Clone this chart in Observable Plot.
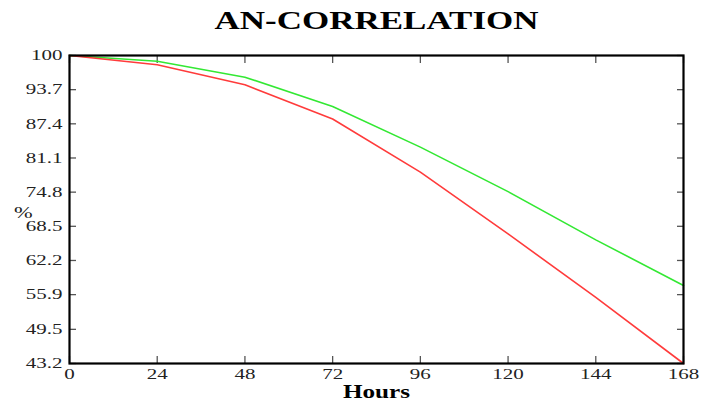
<!DOCTYPE html>
<html>
<head>
<meta charset="utf-8">
<script src="https://cdn.jsdelivr.net/npm/d3@7"></script>
<script src="https://cdn.jsdelivr.net/npm/@observablehq/plot@0.6"></script>
<style>
  html, body { margin: 0; padding: 0; background: #fff; }
  svg, svg text { font-family: "Liberation Serif", "DejaVu Serif", serif !important; }
</style>
</head>
<body>
<div id="chart"></div>
<script>
const title = "AN-CORRELATION";
const xLabel = "Hours";
const yLabel = "%";
const hours = [0, 24, 48, 72, 96, 120, 144, 168];
const greenSeries = [100, 98.95, 96.0, 90.6, 83.1, 74.9, 66.0, 57.6];
const redSeries = [100, 98.3, 94.6, 88.3, 78.5, 67.1, 55.4, 43.2];
const xTicks = [0, 24, 48, 72, 96, 120, 144, 168];
const yTicks = [43.2, 49.5, 55.9, 62.2, 68.5, 74.8, 81.1, 87.4, 93.7, 100];
const yTickLabels = ["43.2", "49.5", "55.9", "62.2", "68.5", "74.8", "81.1", "87.4", "93.7", "100"];

const green = hours.map((h, i) => ({hours: h, value: greenSeries[i]}));
const red = hours.map((h, i) => ({hours: h, value: redSeries[i]}));

const serif = "'Liberation Serif', serif";
const tickStroke = "#555";
const chart = Plot.plot({
  width: 709,
  height: 403,
  marginLeft: 69,
  marginRight: 26,
  marginTop: 55,
  marginBottom: 40,
  style: {fontFamily: serif, background: "white", color: "black"},
  x: {domain: [0, 168], label: null},
  y: {domain: [43.2, 100], label: null},
  marks: [
    Plot.axisY(yTicks, {anchor: "left", tickSize: -7, tickPadding: 14, stroke: tickStroke, strokeWidth: 1.3,
      tickFormat: (d) => yTickLabels[yTicks.indexOf(d)], fontSize: 15, fontFamily: serif, fill: "#222", label: null}),
    Plot.axisY(yTicks, {anchor: "right", tickSize: -7, tickFormat: () => "", stroke: tickStroke, strokeWidth: 1.3, label: null}),
    Plot.axisX(xTicks, {anchor: "bottom", tickSize: -7, tickPadding: 12, stroke: tickStroke, strokeWidth: 1.3,
      fontSize: 15, fontFamily: serif, fill: "#222", label: null}),
    Plot.axisX(xTicks, {anchor: "top", tickSize: -7, tickFormat: () => "", stroke: tickStroke, strokeWidth: 1.3, label: null}),
    Plot.line(green, {x: "hours", y: "value", stroke: "#33e833", strokeWidth: 1.6}),
    Plot.line(red, {x: "hours", y: "value", stroke: "#ff3b3b", strokeWidth: 1.6}),
    Plot.frame({stroke: "black", strokeWidth: 2.2}),
    Plot.text([title], {frameAnchor: "top", lineAnchor: "middle", dy: -35, fontSize: 25, fontWeight: "bold", fontFamily: serif, fill: "black"}),
    Plot.text([xLabel], {frameAnchor: "bottom", lineAnchor: "middle", dy: 29, fontSize: 18, fontWeight: "bold", fontFamily: serif, fill: "black"}),
    Plot.text([yLabel], {frameAnchor: "left", lineAnchor: "middle", dx: -47, dy: 3, fontSize: 16, fontFamily: serif, fill: "#222"})
  ]
});

// horizontal stretch of the text, as in the reference picture
chart.querySelectorAll("text").forEach((t) => {
  const tr = t.getAttribute("transform") || "";
  const ax = parseFloat(t.getAttribute("x")) || 0;
  t.setAttribute("transform", `${tr} translate(${ax},0) scale(1.4,1) translate(${-ax},0)`);
});

// the % label sits further left in the reference
const pct = [...chart.querySelectorAll("text")].find((t) => t.textContent === yLabel);
if (pct) pct.setAttribute("transform", pct.getAttribute("transform") + " translate(-6,0)");

document.getElementById("chart").appendChild(chart);
</script>
</body>
</html>
